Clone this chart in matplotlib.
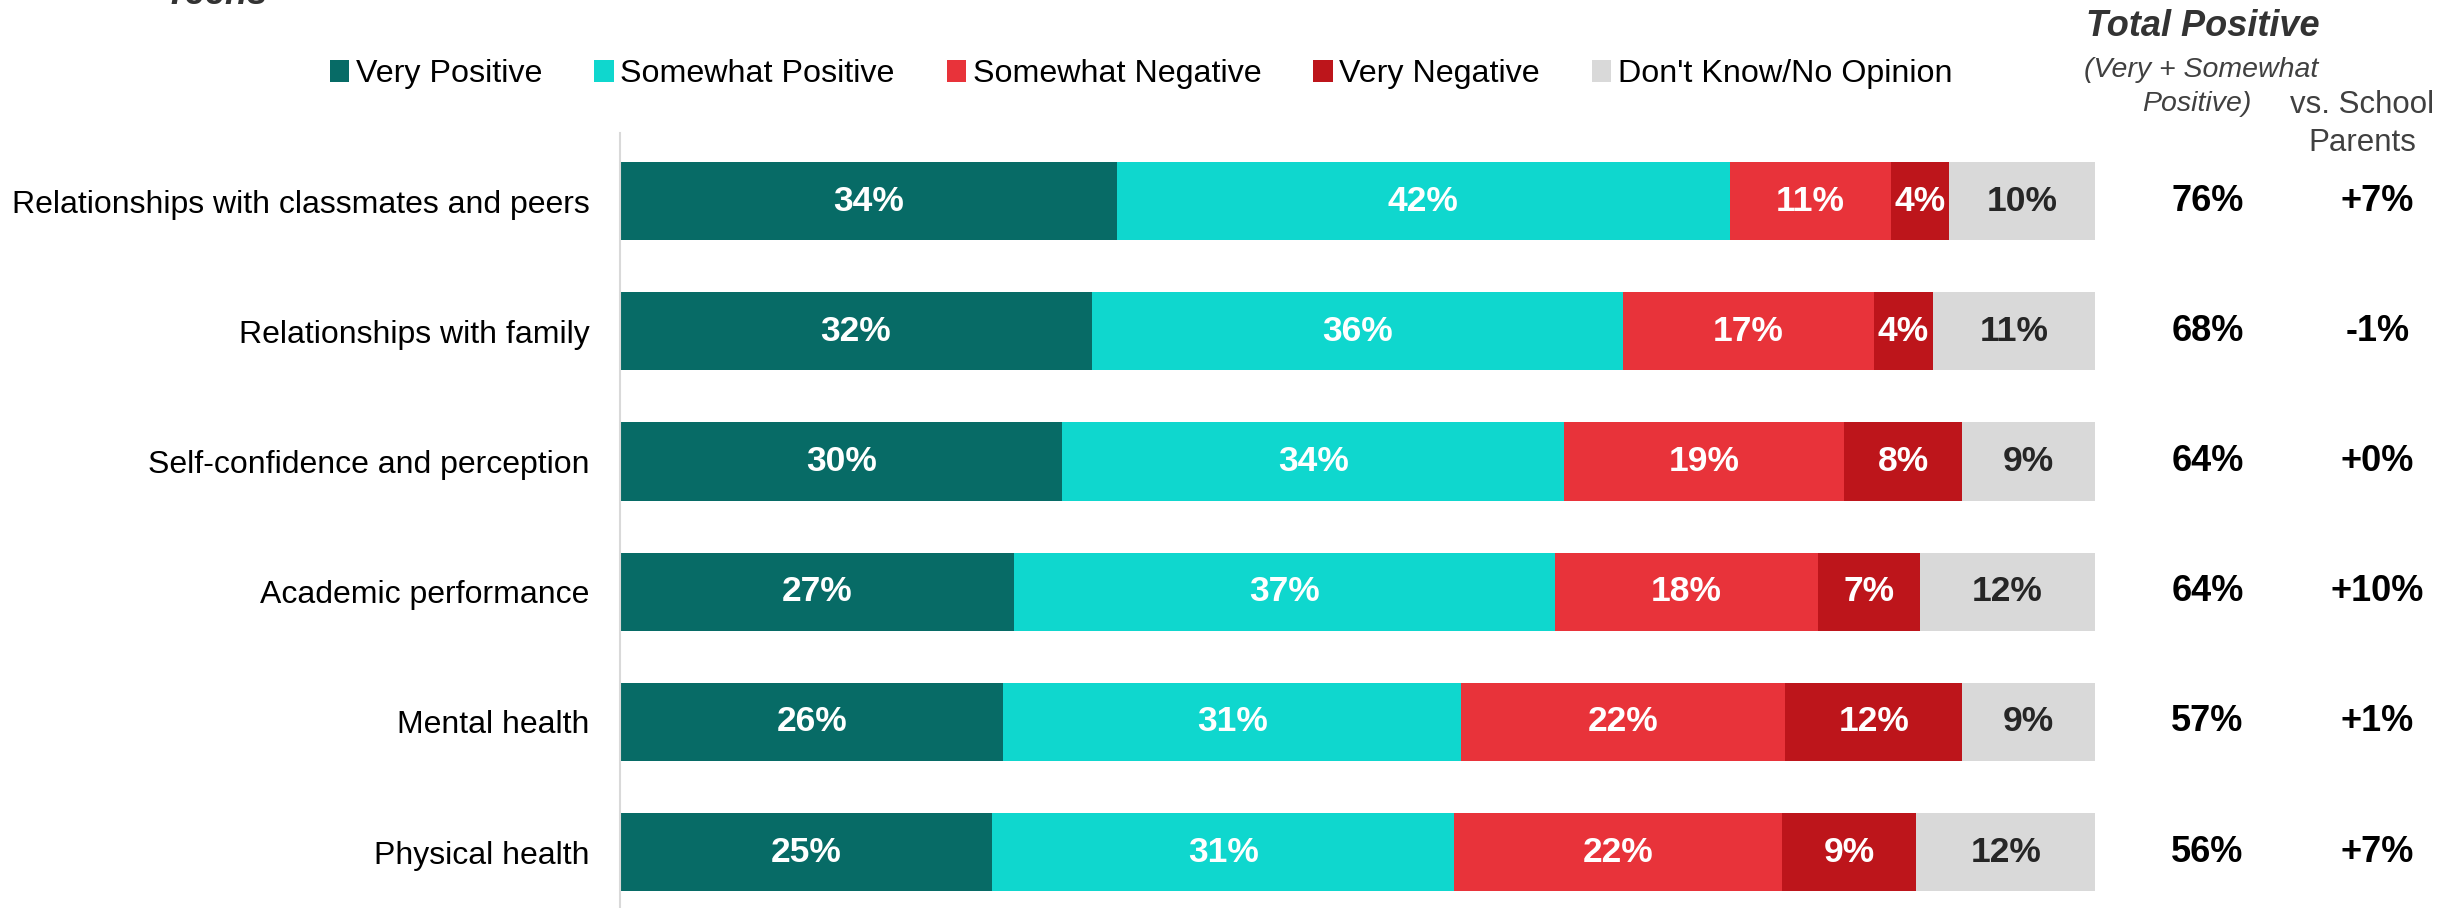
import matplotlib
matplotlib.use('Agg')
import matplotlib.pyplot as plt
import matplotlib.transforms as mtransforms
from matplotlib.patches import Patch
import numpy as np

plt.rcParams['font.family'] = ['Liberation Sans', 'DejaVu Sans']

categories = ['Relationships with classmates and peers', 'Relationships with family',
              'Self-confidence and perception', 'Academic performance',
              'Mental health', 'Physical health']
series_names = ['Very Positive', 'Somewhat Positive', 'Somewhat Negative',
                'Very Negative', "Don't Know/No Opinion"]
very_pos = [34, 32, 30, 27, 26, 25]
somewhat_pos = [42, 36, 34, 37, 31, 31]
somewhat_neg = [11, 17, 19, 18, 22, 22]
very_neg = [4, 4, 8, 7, 12, 9]
dont_know = [10, 11, 9, 12, 9, 12]
vs_parents = ['+7%', '-1%', '+0%', '+10%', '+1%', '+7%']

colors = ['#076b66', '#0fd7ce', '#e8333a', '#bd151b', '#d9d9d9']
label_colors = ['white', 'white', 'white', 'white', '#262626']

series = np.array([very_pos, somewhat_pos, somewhat_neg, very_neg, dont_know], dtype=float)
# bars are drawn full width (rounded values do not always add to 100)
widths = series / series.sum(axis=0) * 100

fig = plt.figure(figsize=(24.61, 9.08), dpi=100)
ax = fig.add_axes([0.2519, 0.0, 0.5994, 0.853])

y = np.arange(len(categories))
left = np.zeros(len(categories))
for i in range(len(series_names)):
    ax.barh(y, widths[i], left=left, height=0.6, color=colors[i], edgecolor='none')
    for j in range(len(categories)):
        ax.text(left[j] + widths[i][j] / 2, y[j], '%d%%' % series[i][j],
                ha='center', va='center', fontsize=25.5, fontweight='bold',
                color=label_colors[i])
    left += widths[i]

ax.set_xlim(0, 100)
ax.set_ylim(5.43, -0.52)
ax.set_yticks(y)
ax.set_yticklabels(categories, fontsize=23)
ax.tick_params(axis='y', length=0, pad=22)
ax.set_xticks([])
for s in ['top', 'right', 'bottom']:
    ax.spines[s].set_visible(False)
ax.spines['left'].set_color('#d9d9d9')
ax.spines['left'].set_linewidth(1.5)

# right hand columns
tr = mtransforms.blended_transform_factory(fig.transFigure, ax.transData)
total_pos = series[0] + series[1]
for j in range(len(categories)):
    ax.text(0.897, y[j], '%d%%' % total_pos[j], transform=tr, ha='center', va='center',
            fontsize=26, fontweight='bold', color='black')
    ax.text(0.966, y[j], vs_parents[j], transform=tr, ha='center', va='center',
            fontsize=26, fontweight='bold', color='black')

fig.text(0.895, 0.971, 'Total Positive', ha='center', va='center', fontsize=26,
         fontweight='bold', fontstyle='italic', color='#333333')
fig.text(0.847, 0.923, '(Very + Somewhat', ha='left', va='center', fontsize=20.5,
         fontstyle='italic', color='#404040')
fig.text(0.915, 0.886, 'Positive)', ha='right', va='center', fontsize=20.5,
         fontstyle='italic', color='#404040')
fig.text(0.960, 0.884, 'vs. School', ha='center', va='center', fontsize=22.5,
         color='#404040')
fig.text(0.960, 0.842, 'Parents', ha='center', va='center', fontsize=22.5,
         color='#404040')

fig.text(0.067, 1 - 4 / 908, 'Teens', ha='left', va='baseline', fontsize=26,
         fontweight='bold', fontstyle='italic', color='#333333')

handles = [Patch(facecolor=c, edgecolor='none') for c in colors]
fig.legend(handles, series_names, loc='center', bbox_to_anchor=(0.4637, 0.918), ncol=5,
           frameon=False, fontsize=23.2, handlelength=0.6, handleheight=0.7,
           handletextpad=0.2, columnspacing=1.62)

fig.savefig('out.png', dpi=100)
